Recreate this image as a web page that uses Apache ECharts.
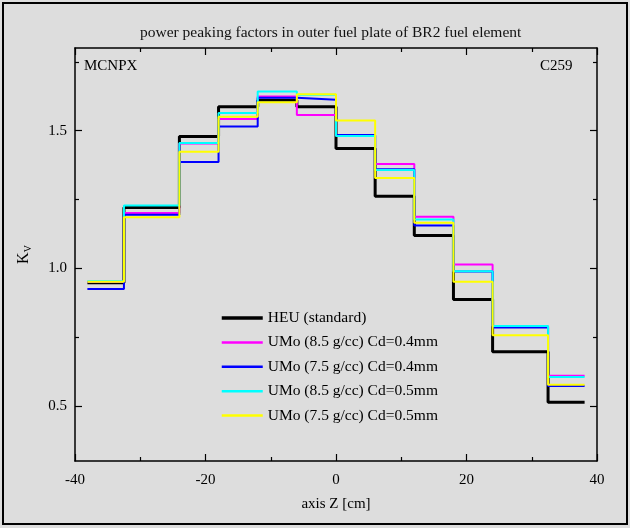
<!DOCTYPE html>
<html>
<head>
<meta charset="utf-8">
<script src="https://cdn.jsdelivr.net/npm/echarts@6/dist/echarts.min.js"></script>
<style>
  html, body { margin: 0; padding: 0; background: #dddddd; }
  #chart { width: 630px; height: 528px; }
</style>
</head>
<body>
<div id="chart"></div>
<script>
/* Power peaking factors along axis Z, outer fuel plate of BR2 element.
   Histogram-style steps: one value per axial bin. */

const zEdges = [-38.1, -32.5, -24, -18, -12, -6, 0, 6, 12, 18, 24, 32.5, 38.1];

const heuStd   = [0.947, 1.221, 1.479, 1.587, 1.610, 1.587, 1.435, 1.262, 1.119, 0.887, 0.697, 0.513];
const umo85Cd4 = [0.950, 1.201, 1.453, 1.542, 1.624, 1.557, 1.481, 1.379, 1.187, 1.014, 0.789, 0.610];
const umo75Cd4 = [0.925, 1.194, 1.386, 1.515, 1.619, 1.612, 1.484, 1.360, 1.155, 0.988, 0.785, 0.572];
const umo85Cd5 = [0.953, 1.228, 1.455, 1.564, 1.642, 1.630, 1.480, 1.357, 1.177, 0.989, 0.790, 0.605];
const umo75Cd5 = [0.951, 1.185, 1.423, 1.550, 1.603, 1.632, 1.537, 1.328, 1.165, 0.951, 0.757, 0.577];

const seriesNames = [
  'HEU (standard)',
  'UMo (8.5 g/cc) Cd=0.4mm',
  'UMo (7.5 g/cc) Cd=0.4mm',
  'UMo (8.5 g/cc) Cd=0.5mm',
  'UMo (7.5 g/cc) Cd=0.5mm',
];
const seriesColors = ['#000000', '#ff00ff', '#0000ff', '#00ffff', '#ffff00'];

const xTicksMajor = [-40, -20, 0, 20, 40];
const yTicksMajor = [0.5, 1.0, 1.5];
const yTicksMinor = [0.75, 1.25, 1.75];

const FONT = '"Liberation Serif", "Times New Roman", serif';
const INK = '#000';

// each bin -> its left edge; close the last bin at the right edge
function stepData(vals) {
  const pts = vals.map((v, i) => [zEdges[i], v]);
  pts.push([zEdges[zEdges.length - 1], vals[vals.length - 1]]);
  return pts;
}

function lineSeries(i, vals, width) {
  const color = seriesColors[i];
  return {
    name: seriesNames[i],
    type: 'line',
    step: 'end',
    symbol: 'none',
    data: stepData(vals),
    lineStyle: { color, width },
    itemStyle: { color },
    xAxisIndex: 0,
    yAxisIndex: 0,
  };
}

function xAxisDef(pos, withLabels) {
  return {
    type: 'value',
    position: pos,
    min: -40,
    max: 40,
    interval: 20,
    axisLine: { show: true, onZero: false, lineStyle: { color: INK, width: 1.5 } },
    axisTick: { show: true, inside: true, length: 7, lineStyle: { color: INK, width: 1.2 } },
    minorTick: { show: true, splitNumber: 2, length: 4, lineStyle: { color: INK, width: 1.2 } },
    splitLine: { show: false },
    minorSplitLine: { show: false },
    axisLabel: {
      show: withLabels, margin: 12, color: INK, fontFamily: FONT, fontSize: 15,
      customValues: xTicksMajor,
    },
    name: withLabels ? 'axis Z [cm]' : '',
    nameLocation: 'middle',
    nameGap: 36,
    nameTextStyle: { color: INK, fontFamily: FONT, fontSize: 15 },
  };
}

function yAxisDef(pos, ticks, tickLen, withLine, withLabels) {
  return {
    type: 'value',
    position: pos,
    min: 0.3,
    max: 1.8,
    axisLine: { show: withLine, onZero: false, lineStyle: { color: INK, width: 1.5 } },
    axisTick: {
      show: true, inside: true, length: tickLen, customValues: ticks,
      lineStyle: { color: INK, width: 1.2 },
    },
    splitLine: { show: false },
    axisLabel: {
      show: withLabels, margin: 8, color: INK, fontFamily: FONT, fontSize: 15,
      customValues: yTicksMajor,
      formatter: v => v.toFixed(1),
    },
    name: withLabels ? 'K{s|V}' : '',
    nameLocation: 'middle',
    nameRotate: 90,
    nameGap: 42,
    nameTextStyle: {
      color: INK, fontFamily: FONT, fontSize: 16,
      rich: { s: { fontFamily: FONT, fontSize: 10, color: INK, padding: [9, 0, 0, 0] } },
    },
  };
}

const chart = echarts.init(document.getElementById('chart'), null, { renderer: 'canvas' });

chart.setOption({
  animation: false,
  backgroundColor: '#dddddd',
  title: {
    text: 'power peaking factors in outer fuel plate of BR2 fuel element',
    left: 135,
    top: 20,
    textStyle: { color: '#111', fontFamily: FONT, fontSize: 15.5, fontWeight: 'normal' },
  },
  grid: { left: 75, right: 33, top: 48, bottom: 67 },
  xAxis: [xAxisDef('bottom', true), xAxisDef('top', false)],
  yAxis: [
    yAxisDef('left', yTicksMajor, 7, true, true),
    yAxisDef('left', yTicksMinor, 4, false, false),
    yAxisDef('right', yTicksMajor, 7, true, false),
    yAxisDef('right', yTicksMinor, 4, false, false),
  ],
  legend: {
    orient: 'vertical',
    left: 220,
    top: 310,
    padding: 0,
    itemWidth: 41,
    itemHeight: 14,
    itemGap: 8.4,
    data: seriesNames.map((name, i) => ({
      name,
      lineStyle: { color: seriesColors[i], width: i === 0 ? 3.5 : 2.5 },
    })),
    itemStyle: { opacity: 0 },
    textStyle: { color: INK, fontFamily: FONT, fontSize: 15.5 },
  },
  graphic: [
    {
      type: 'rect', silent: true,
      shape: { x: 3, y: 3, width: 624, height: 521 },
      style: { fill: 'none', stroke: INK, lineWidth: 2 },
    },
    {
      type: 'text', left: 84, top: 59,
      style: { text: 'MCNPX', font: `15px ${FONT}`, fill: INK },
    },
    {
      type: 'text', left: 540, top: 59,
      style: { text: 'C259', font: `15px ${FONT}`, fill: INK },
    },
  ],
  series: [
    lineSeries(0, heuStd, 3),
    lineSeries(1, umo85Cd4, 2),
    lineSeries(2, umo75Cd4, 2),
    lineSeries(3, umo85Cd5, 2),
    lineSeries(4, umo75Cd5, 2),
  ],
});
</script>
</body>
</html>
